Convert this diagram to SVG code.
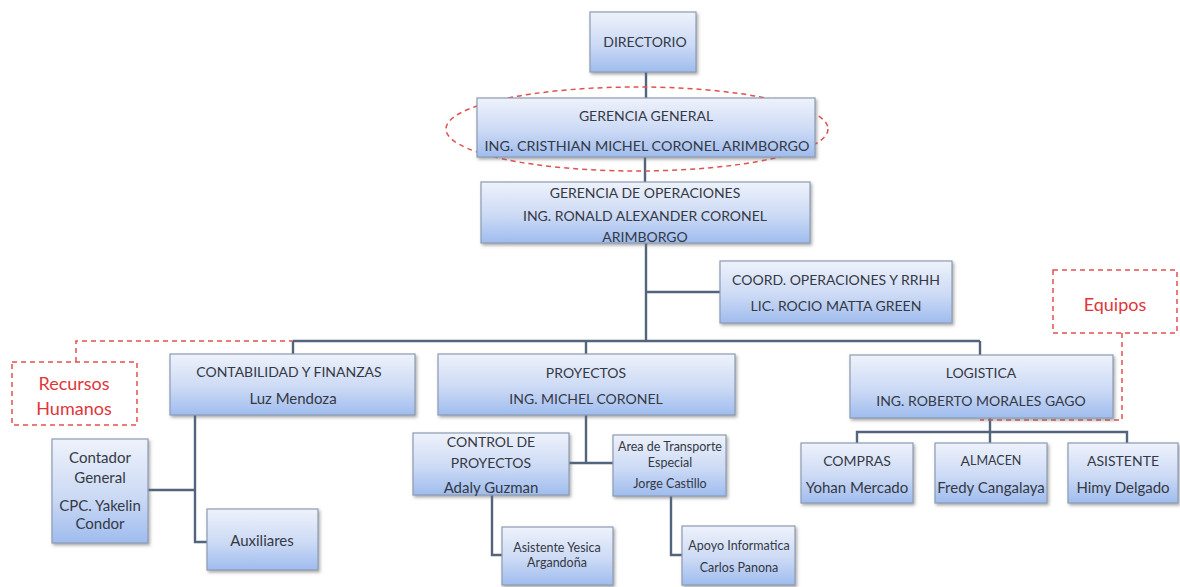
<svg xmlns="http://www.w3.org/2000/svg" width="1180" height="587" viewBox="0 0 1180 587">
  <defs>
    <linearGradient id="boxFill" x1="0" y1="0" x2="0" y2="1">
      <stop offset="0" stop-color="#eef2fb"/>
      <stop offset="0.55" stop-color="#ccdaf5"/>
      <stop offset="1" stop-color="#9fbcee"/>
    </linearGradient>
    <filter id="shadow" x="-10%" y="-10%" width="125%" height="135%">
      <feDropShadow dx="1.5" dy="2" stdDeviation="1.5" flood-color="#6a6a6a" flood-opacity="0.55"/>
    </filter>
  </defs>
  <style>
    .box { fill: url(#boxFill); stroke: #8d9bb3; stroke-width: 1.2; filter: url(#shadow); }
    .t { font-family: Lato, "Open Sans", "Liberation Sans", sans-serif; font-size: 14px; fill: #353944; text-anchor: middle; dominant-baseline: central; }
    .n { font-size: 15px; }
    .xs { font-size: 12.5px; }
    .red { fill: #e0363a; font-size: 18px; }
    .conn { fill: none; stroke: #53657e; stroke-width: 2.4; }
    .dash { fill: none; stroke: #e25050; stroke-width: 1.5; stroke-dasharray: 5 4; }
  </style>
  <rect width="1180" height="587" fill="#ffffff"/>

  <!-- connectors -->
  <g id="connectors">
    <path class="conn" d="M646 72 V98"/>
    <path class="conn" d="M645 157 V182"/>
    <path class="conn" d="M646 243 V341"/>
    <path class="conn" d="M646 292 H720"/>
    <path class="conn" d="M293 341 H980"/>
    <path class="conn" d="M293 341 V354"/>
    <path class="conn" d="M586 341 V354"/>
    <path class="conn" d="M980 341 V355"/>
    <!-- contabilidad -->
    <path class="conn" d="M195 415 V542 H207"/>
    <path class="conn" d="M148 490 H195"/>
    <!-- proyectos -->
    <path class="conn" d="M586 415 V463"/>
    <path class="conn" d="M569 463 H613"/>
    <path class="conn" d="M492 495 V555 H502"/>
    <path class="conn" d="M671 496 V555 H682"/>
    <!-- logistica -->
    <path class="conn" d="M990 418 V432"/>
    <path class="conn" d="M857 443 V432 H1127 V443"/>
    <path class="conn" d="M990 432 V443"/>
  </g>

  <!-- dashed annotations -->
  <g id="annotations">
    <ellipse class="dash" cx="637" cy="129" rx="191" ry="42"/>
    <path class="dash" d="M76 362 V341 H293"/>
    <rect class="dash" x="12" y="362" width="125" height="63"/>
    <text class="t red" x="74" y="383">Recursos</text>
    <text class="t red" x="74" y="408">Humanos</text>
    <rect class="dash" x="1053" y="270" width="124" height="63"/>
    <text class="t red" x="1115" y="304">Equipos</text>
    <path class="dash" d="M1122 333 V420 H980"/>
  </g>

  <g id="directorio">
    <rect class="box" x="590" y="12" width="106" height="60"/>
    <text class="t" x="645" y="41">DIRECTORIO</text>
  </g>

  <g id="gerencia-general">
    <rect class="box" x="477" y="98" width="338" height="59"/>
    <text class="t" x="646" y="115">GERENCIA GENERAL</text>
    <text class="t" x="647" y="145" textLength="325" lengthAdjust="spacingAndGlyphs">ING. CRISTHIAN MICHEL CORONEL ARIMBORGO</text>
  </g>

  <g id="gerencia-operaciones">
    <rect class="box" x="481" y="182" width="329" height="61"/>
    <text class="t" x="645" y="192">GERENCIA DE OPERACIONES</text>
    <text class="t" x="645" y="215">ING. RONALD ALEXANDER CORONEL</text>
    <text class="t" x="645" y="236">ARIMBORGO</text>
  </g>

  <g id="coord-operaciones">
    <rect class="box" x="720" y="261" width="232" height="62"/>
    <text class="t" x="836" y="279">COORD. OPERACIONES Y RRHH</text>
    <text class="t" x="836" y="305">LIC. ROCIO MATTA GREEN</text>
  </g>

  <g id="contabilidad">
    <rect class="box" x="170" y="354" width="245" height="61"/>
    <text class="t" x="289" y="371">CONTABILIDAD Y FINANZAS</text>
    <text class="t n" x="293" y="398">Luz Mendoza</text>
  </g>

  <g id="proyectos">
    <rect class="box" x="438" y="354" width="297" height="61"/>
    <text class="t" x="586" y="372">PROYECTOS</text>
    <text class="t" x="586" y="398">ING. MICHEL CORONEL</text>
  </g>

  <g id="logistica">
    <rect class="box" x="850" y="355" width="263" height="63"/>
    <text class="t" x="981" y="372">LOGISTICA</text>
    <text class="t" x="981" y="400">ING. ROBERTO MORALES GAGO</text>
  </g>

  <g id="contador-general">
    <rect class="box" x="52" y="439" width="96" height="104"/>
    <text class="t n" x="100" y="457">Contador</text>
    <text class="t n" x="100" y="477">General</text>
    <text class="t n" x="100" y="505">CPC. Yakelin</text>
    <text class="t n" x="100" y="523">Condor</text>
  </g>

  <g id="auxiliares">
    <rect class="box" x="207" y="509" width="111" height="61"/>
    <text class="t n" x="262" y="540">Auxiliares</text>
  </g>

  <g id="control-proyectos">
    <rect class="box" x="413" y="433" width="156" height="62"/>
    <text class="t" x="491" y="441">CONTROL DE</text>
    <text class="t" x="491" y="462">PROYECTOS</text>
    <text class="t n" x="491" y="487">Adaly Guzman</text>
  </g>

  <g id="transporte-especial">
    <rect class="box" x="613" y="435" width="113" height="61"/>
    <text class="t xs" x="670" y="446">Area de Transporte</text>
    <text class="t xs" x="670" y="462">Especial</text>
    <text class="t xs" x="670" y="483">Jorge Castillo</text>
  </g>

  <g id="asistente-yesica">
    <rect class="box" x="502" y="527" width="111" height="58"/>
    <text class="t xs" x="557" y="547">Asistente Yesica</text>
    <text class="t xs" x="557" y="562">Argandoña</text>
  </g>

  <g id="apoyo-informatica">
    <rect class="box" x="682" y="526" width="113" height="59"/>
    <text class="t xs" x="739" y="545">Apoyo Informatica</text>
    <text class="t xs" x="739" y="567">Carlos Panona</text>
  </g>

  <g id="compras">
    <rect class="box" x="801" y="443" width="112" height="60"/>
    <text class="t" x="857" y="460">COMPRAS</text>
    <text class="t n" x="857" y="487">Yohan Mercado</text>
  </g>

  <g id="almacen">
    <rect class="box" x="935" y="443" width="112" height="60"/>
    <text class="t" x="991" y="460" font-size="15">A<tspan font-size="12.5">LMACEN</tspan></text>
    <text class="t n" x="991" y="487">Fredy Cangalaya</text>
  </g>

  <g id="asistente">
    <rect class="box" x="1068" y="443" width="110" height="60"/>
    <text class="t" x="1123" y="460">ASISTENTE</text>
    <text class="t n" x="1123" y="487">Himy Delgado</text>
  </g>
</svg>
